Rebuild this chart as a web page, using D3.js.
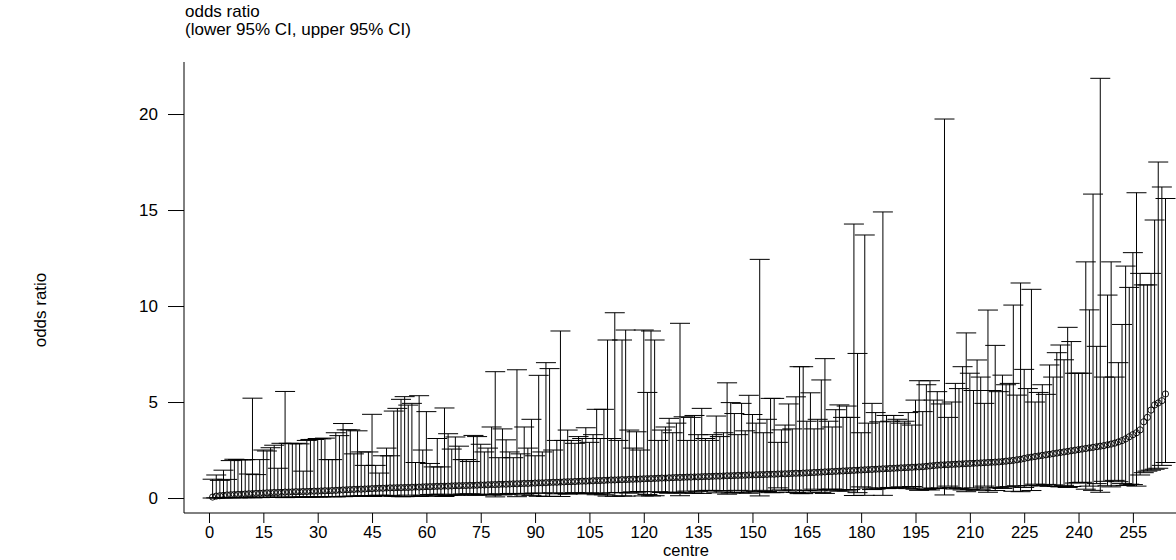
<!DOCTYPE html>
<html>
<head>
<meta charset="utf-8">
<script src="https://cdn.jsdelivr.net/npm/d3@7"></script>
<style>
  body { margin: 0; background: #fff; }
  svg { display: block; }
  text { font-family: "Liberation Sans", Arial, Helvetica, sans-serif; fill: #000; }
</style>
</head>
<body>
<svg id="mainsvg" width="1176" height="560"></svg>
<script>
// odds ratio per centre, sorted ascending (centre 1..264)
var oddsRatio = [
  0.05, 0.10, 0.12, 0.14, 0.16, 0.17, 0.18, 0.19, 0.20, 0.21,
  0.22, 0.23, 0.24, 0.25, 0.26, 0.27, 0.28, 0.29, 0.29, 0.30,
  0.31, 0.31, 0.32, 0.33, 0.33, 0.34, 0.34, 0.35, 0.36, 0.36,
  0.37, 0.38, 0.38, 0.39, 0.40, 0.41, 0.42, 0.43, 0.44, 0.45,
  0.46, 0.46, 0.47, 0.48, 0.49, 0.50, 0.51, 0.51, 0.52, 0.53,
  0.53, 0.54, 0.54, 0.55, 0.55, 0.56, 0.57, 0.57, 0.58, 0.59,
  0.59, 0.60, 0.61, 0.61, 0.62, 0.62, 0.63, 0.64, 0.64, 0.65,
  0.65, 0.66, 0.66, 0.67, 0.68, 0.68, 0.69, 0.70, 0.70, 0.71,
  0.72, 0.72, 0.73, 0.74, 0.74, 0.75, 0.76, 0.76, 0.77, 0.78,
  0.79, 0.79, 0.80, 0.81, 0.82, 0.82, 0.83, 0.84, 0.85, 0.85,
  0.86, 0.87, 0.88, 0.88, 0.89, 0.90, 0.91, 0.91, 0.92, 0.93,
  0.94, 0.94, 0.95, 0.96, 0.96, 0.97, 0.98, 0.98, 0.99, 1.00,
  1.01, 1.01, 1.02, 1.03, 1.04, 1.04, 1.05, 1.06, 1.07, 1.07,
  1.08, 1.09, 1.09, 1.10, 1.10, 1.11, 1.12, 1.12, 1.13, 1.14,
  1.14, 1.15, 1.16, 1.16, 1.17, 1.18, 1.18, 1.19, 1.20, 1.20,
  1.21, 1.22, 1.22, 1.23, 1.24, 1.24, 1.25, 1.26, 1.26, 1.27,
  1.28, 1.29, 1.29, 1.30, 1.31, 1.32, 1.33, 1.34, 1.35, 1.36,
  1.37, 1.38, 1.39, 1.40, 1.41, 1.42, 1.43, 1.44, 1.45, 1.46,
  1.47, 1.48, 1.49, 1.50, 1.51, 1.52, 1.53, 1.54, 1.55, 1.56,
  1.57, 1.58, 1.59, 1.60, 1.61, 1.62, 1.63, 1.65, 1.67, 1.69,
  1.71, 1.72, 1.73, 1.74, 1.75, 1.76, 1.77, 1.78, 1.79, 1.80,
  1.81, 1.82, 1.83, 1.84, 1.85, 1.86, 1.87, 1.88, 1.90, 1.92,
  1.94, 1.96, 1.99, 2.02, 2.06, 2.10, 2.13, 2.16, 2.19, 2.22,
  2.25, 2.28, 2.31, 2.34, 2.37, 2.40, 2.43, 2.46, 2.49, 2.52,
  2.55, 2.58, 2.61, 2.64, 2.67, 2.70, 2.73, 2.77, 2.81, 2.86,
  2.92, 2.99, 3.08, 3.19, 3.30, 3.40, 3.55, 3.97, 4.20, 4.58,
  4.85, 4.95, 5.07, 5.42
];

// lower 95% CI
var lowerCI = [
  0.00, 0.01, 0.01, 0.01, 0.02, 0.01, 0.02, 0.01, 0.02, 0.02,
  0.03, 0.01, 0.03, 0.02, 0.04, 0.03, 0.04, 0.03, 0.05, 0.03,
  0.02, 0.04, 0.04, 0.05, 0.04, 0.06, 0.05, 0.05, 0.06, 0.05,
  0.06, 0.07, 0.08, 0.07, 0.06, 0.08, 0.07, 0.09, 0.08, 0.10,
  0.09, 0.11, 0.12, 0.10, 0.08, 0.13, 0.15, 0.12, 0.10, 0.14,
  0.09, 0.08, 0.07, 0.07, 0.15, 0.08, 0.09, 0.08, 0.14, 0.09,
  0.18, 0.19, 0.12, 0.20, 0.08, 0.13, 0.16, 0.14, 0.17, 0.21,
  0.20, 0.22, 0.14, 0.15, 0.18, 0.20, 0.19, 0.15, 0.06, 0.22,
  0.16, 0.19, 0.23, 0.24, 0.07, 0.22, 0.16, 0.24, 0.14, 0.26,
  0.09, 0.25, 0.08, 0.09, 0.27, 0.22, 0.08, 0.24, 0.20, 0.25,
  0.28, 0.24, 0.25, 0.21, 0.27, 0.24, 0.17, 0.25, 0.17, 0.10,
  0.27, 0.09, 0.29, 0.11, 0.10, 0.26, 0.32, 0.27, 0.34, 0.11,
  0.18, 0.11, 0.12, 0.33, 0.29, 0.28, 0.25, 0.31, 0.27, 0.12,
  0.27, 0.36, 0.26, 0.25, 0.35, 0.24, 0.38, 0.40, 0.37, 0.27,
  0.39, 0.36, 0.20, 0.26, 0.29, 0.40, 0.27, 0.37, 0.25, 0.31,
  0.35, 0.11, 0.40, 0.34, 0.28, 0.28, 0.53, 0.42, 0.38, 0.30,
  0.42, 0.29, 0.23, 0.23, 0.39, 0.30, 0.46, 0.38, 0.28, 0.24,
  0.44, 0.47, 0.38, 0.36, 0.43, 0.37, 0.44, 0.13, 0.28, 0.58,
  0.14, 0.52, 0.44, 0.47, 0.52, 0.14, 0.49, 0.55, 0.50, 0.54,
  0.58, 0.56, 0.49, 0.60, 0.46, 0.40, 0.52, 0.44, 0.42, 0.50,
  0.49, 0.53, 0.16, 0.62, 0.54, 0.47, 0.50, 0.42, 0.33, 0.45,
  0.53, 0.40, 0.46, 0.62, 0.30, 0.53, 0.39, 0.54, 0.50, 0.58,
  0.59, 0.35, 0.64, 0.33, 0.55, 0.64, 0.39, 0.72, 0.66, 0.63,
  0.71, 0.61, 0.68, 0.60, 0.58, 0.66, 0.55, 0.60, 0.78, 0.80,
  0.82, 0.46, 0.62, 0.40, 0.75, 0.30, 0.87, 0.64, 0.58, 0.92,
  0.85, 0.75, 0.65, 0.72, 0.70, 0.62, 1.20, 1.32, 1.40, 1.45,
  1.50, 1.55, 1.70, 1.85
];

// upper 95% CI
var upperCI = [
  0.98, 1.20, 0.92, 1.45, 0.97, 1.95, 2.02, 2.00, 1.98, 2.00,
  1.25, 5.20, 1.22, 2.00, 2.50, 2.45, 2.62, 2.75, 1.55, 2.85,
  5.55, 2.85, 2.83, 2.85, 2.82, 1.40, 3.00, 3.05, 3.05, 3.10,
  3.08, 3.12, 2.00, 2.00, 3.40, 3.25, 3.88, 3.55, 3.55, 2.30,
  3.50, 2.40, 1.70, 2.40, 4.36, 1.70, 1.30, 2.20, 2.60, 2.20,
  4.53, 4.67, 5.14, 5.28, 4.84, 4.93, 1.85, 5.33, 2.50, 4.50,
  1.80, 1.62, 3.10, 1.62, 4.69, 3.35, 2.55, 3.18, 2.70, 2.00,
  2.00, 1.90, 3.26, 3.20, 2.80, 2.40, 2.60, 3.70, 6.58, 2.10,
  3.60, 3.03, 2.40, 2.10, 6.68, 2.30, 3.70, 2.60, 4.10, 2.20,
  6.39, 2.40, 7.05, 6.74, 2.50, 3.00, 8.70, 3.00, 3.54, 3.00,
  2.85, 3.20, 3.10, 3.66, 2.90, 3.30, 4.62, 3.10, 4.62, 8.23,
  3.10, 9.65, 3.00, 8.23, 8.75, 3.54, 2.60, 3.45, 2.50, 8.75,
  5.50, 8.70, 8.23, 3.00, 3.54, 3.70, 4.15, 3.40, 3.90, 9.10,
  4.23, 3.00, 4.20, 4.30, 3.30, 4.67, 3.10, 3.00, 3.30, 4.27,
  3.20, 3.40, 6.00, 4.97, 4.40, 3.30, 4.93, 3.50, 5.35, 4.35,
  3.90, 12.43, 3.40, 4.10, 5.19, 5.19, 2.90, 3.55, 3.80, 4.90,
  3.60, 5.27, 6.84, 6.84, 4.00, 5.48, 3.60, 4.10, 6.15, 7.26,
  4.00, 3.70, 4.60, 4.85, 4.20, 4.79, 4.20, 14.27, 7.53, 3.40,
  13.70, 3.90, 4.93, 4.45, 3.97, 14.90, 4.30, 4.00, 4.30, 4.10,
  3.90, 4.00, 4.45, 3.80, 5.10, 6.11, 4.50, 5.90, 6.11, 5.10,
  5.54, 4.90, 19.74, 4.20, 5.00, 5.97, 5.70, 6.84, 8.60, 6.50,
  5.60, 7.19, 6.30, 4.93, 9.79, 5.60, 7.95, 5.54, 6.40, 5.90,
  5.97, 10.05, 5.36, 11.20, 6.70, 5.70, 10.87, 5.00, 5.50, 5.90,
  5.40, 6.93, 6.30, 7.57, 7.97, 7.20, 8.89, 8.15, 6.50, 6.50,
  6.50, 12.30, 9.80, 15.83, 7.90, 21.86, 6.30, 10.57, 12.30, 6.30,
  7.05, 9.04, 12.08, 10.97, 12.78, 15.90, 11.70, 11.10, 11.10, 11.70,
  14.48, 17.50, 16.20, 15.60
];

var xTicks = [0, 15, 30, 45, 60, 75, 90, 105, 120, 135, 150, 165, 180, 195, 210, 225, 240, 255];
var yTicks = [0, 5, 10, 15, 20];

var svg = d3.select("#mainsvg");
var capHalf = 10;

var x = d3.scaleLinear().domain([-6.9, 266.9]).range([184, 1176]);
var y = d3.scaleLinear().domain([-0.78, 22.71]).range([513, 62]);

var data = oddsRatio.map(function (d, i) {
  return { centre: i + 1, or: d, lo: lowerCI[i], hi: upperCI[i] };
});

// axes
var yAxis = d3.axisLeft(y).tickValues(yTicks).tickSize(16).tickPadding(10);
var gy = svg.append("g").attr("transform", "translate(184,0)").call(yAxis);
gy.select(".domain").attr("d", "M0," + 513 + "V" + 62);

var xAxis = d3.axisBottom(x).tickValues(xTicks).tickSize(10).tickPadding(3);
var gx = svg.append("g").attr("transform", "translate(0,513)").call(xAxis);
gx.select(".domain").attr("d", "M184,0H1176");

svg.selectAll(".tick text").attr("font-size", 17).attr("font-family", "Liberation Sans, Arial, sans-serif");
gx.selectAll(".tick text").attr("font-size", 16.5);
svg.selectAll(".tick line").attr("stroke", "#000");
svg.selectAll(".domain").attr("stroke", "#000");

// CI whiskers
var bars = svg.append("g").attr("id", "bars");
bars.selectAll("line.whisk")
  .data(data)
  .enter()
  .append("line")
  .attr("class", "whisk")
  .attr("x1", function (d) { return x(d.centre); })
  .attr("x2", function (d) { return x(d.centre); })
  .attr("y1", function (d) { return y(d.lo); })
  .attr("y2", function (d) { return y(d.hi); })
  .attr("stroke", "#000")
  .attr("stroke-width", 1);

// caps, upper and lower
["hi", "lo"].forEach(function (k) {
  bars.selectAll("line.cap" + k)
    .data(data)
    .enter()
    .append("line")
    .attr("class", "cap" + k)
    .attr("x1", function (d) { return x(d.centre) - capHalf; })
    .attr("x2", function (d) { return x(d.centre) + capHalf; })
    .attr("y1", function (d) { return y(d[k]); })
    .attr("y2", function (d) { return y(d[k]); })
    .attr("stroke", "#000")
    .attr("stroke-width", 1);
});

// point estimates
svg.append("g").attr("id", "points")
  .selectAll("circle")
  .data(data)
  .enter()
  .append("circle")
  .attr("cx", function (d) { return x(d.centre); })
  .attr("cy", function (d) { return y(d.or); })
  .attr("r", 3.1)
  .attr("fill", "none")
  .attr("stroke", "#000")
  .attr("stroke-width", 0.9);

// titles
svg.append("text").attr("x", 185).attr("y", 17).attr("font-size", 17).text("odds ratio");
svg.append("text").attr("x", 185).attr("y", 35).attr("font-size", 17).text("(lower 95% CI, upper 95% CI)");
svg.append("text").attr("x", 686).attr("y", 556).attr("font-size", 16.5)
  .attr("text-anchor", "middle").text("centre");
svg.append("text")
  .attr("transform", "translate(46,310) rotate(-90)")
  .attr("font-size", 17)
  .attr("text-anchor", "middle")
  .text("odds ratio");
</script>
</body>
</html>
